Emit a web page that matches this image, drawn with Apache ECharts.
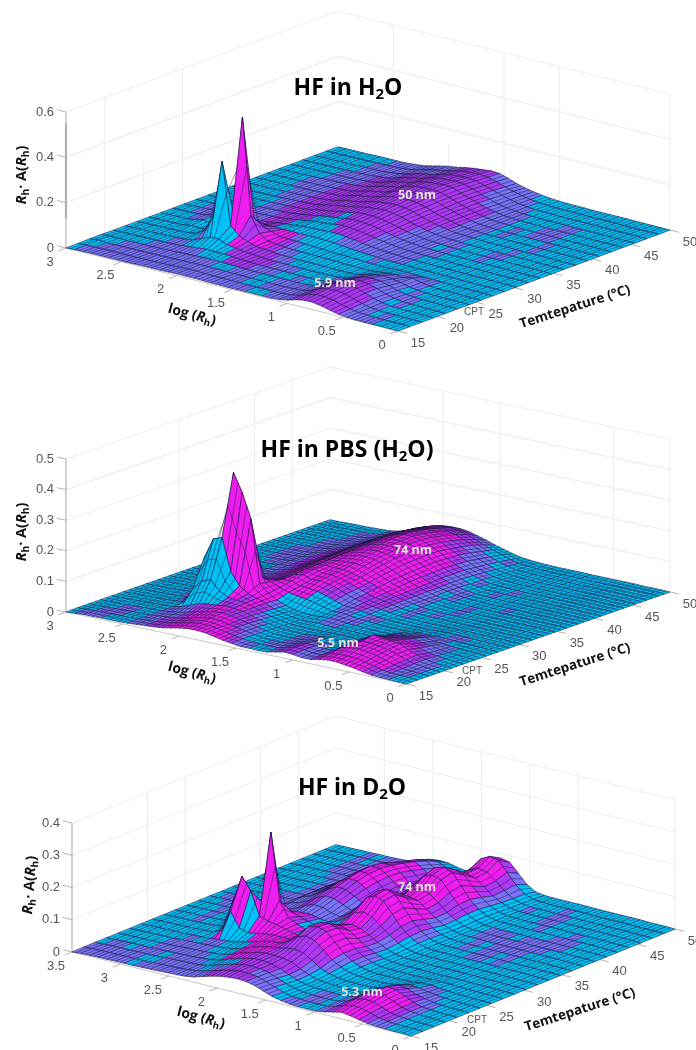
<!DOCTYPE html>
<html><head><meta charset="utf-8"><style>html,body{margin:0;padding:0;background:#fff}#c{width:696px;height:1050px}</style>
<script src="https://cdn.jsdelivr.net/npm/echarts@6/dist/echarts.min.js"></script></head><body><div id="c"></div>
<script>
// Surface heights are z x 1000. Rows: log(Rh) from axis max down to 0. Columns: temperature 15 to 50 C.
const h2oHeights=[
[0,1,2,2,1,1,1,1,1,1,1,1,1,1,1,1,1,1,1,1,1,1,1,1],
[2,3,6,4,2,2,2,2,2,2,2,2,2,2,2,2,2,2,2,2,2,2,2,2],
[3,3,3,3,3,3,3,3,3,3,3,3,3,3,3,3,3,2,2,2,2,2,2,2],
[4,4,3,3,3,3,3,3,3,4,5,5,4,3,3,3,3,3,3,3,3,3,3,2],
[4,4,4,4,4,4,4,5,8,10,10,8,5,4,4,4,4,4,4,4,3,3,3,3],
[4,4,4,4,4,5,6,10,16,18,16,10,6,5,5,5,5,5,5,5,4,4,4,4],
[4,4,4,4,5,6,8,8,8,8,7,7,6,6,6,6,6,6,6,5,5,5,4,4],
[4,4,4,5,6,8,14,14,10,9,8,8,8,8,8,7,7,7,7,6,6,5,5,4],
[5,5,5,6,8,14,40,30,14,10,9,9,9,9,9,9,9,9,9,8,7,6,6,5],
[6,5,6,7,12,30,110,70,22,13,11,11,11,11,11,11,12,12,12,11,11,10,9,8],
[6,6,7,9,16,45,360,95,35,17,14,13,14,14,14,15,15,15,16,15,15,14,13,12],
[6,7,8,11,20,45,85,545,70,30,20,18,19,20,21,22,23,24,25,25,24,23,22,20],
[7,8,9,12,18,30,50,120,55,32,25,24,25,27,29,31,33,34,36,36,35,33,31,29],
[8,9,10,13,18,24,34,50,40,30,28,29,31,33,35,37,39,41,43,44,43,41,39,37],
[8,9,10,12,15,18,22,26,28,30,33,36,38,40,42,44,46,48,50,52,50,48,45,42],
[8,8,9,10,12,15,18,22,26,30,34,38,42,46,50,54,58,62,64,64,62,58,54,50],
[7,7,8,9,10,12,15,18,24,30,36,42,48,54,58,62,66,70,72,72,70,66,62,56],
[6,7,7,8,9,10,12,16,22,30,38,46,52,58,62,66,70,74,76,76,74,70,66,60],
[6,6,7,7,8,9,11,15,20,28,38,46,52,58,64,68,72,76,78,80,76,72,68,64],
[5,6,6,7,8,9,10,14,18,26,34,42,48,54,60,64,68,72,74,76,72,68,64,62],
[5,5,6,6,7,8,10,14,16,22,30,36,42,46,52,56,58,60,62,62,60,56,54,50],
[5,5,5,6,7,8,10,12,14,18,24,28,32,36,40,42,44,46,48,48,46,44,40,36],
[5,5,5,6,6,7,9,12,14,16,18,22,24,26,30,32,34,36,36,36,34,32,30,26],
[5,5,5,5,6,7,8,10,12,13,14,16,18,20,20,22,24,24,24,24,22,22,20,18],
[5,6,6,6,7,8,8,9,9,10,11,12,13,14,14,15,15,16,16,16,14,14,13,12],
[8,8,9,10,10,9,8,8,8,8,9,9,9,10,10,10,10,10,10,10,9,9,8,8],
[14,16,18,20,18,14,11,8,7,7,7,7,7,8,8,8,8,7,7,7,7,6,6,5],
[25,30,34,36,32,26,20,12,8,6,6,6,6,6,6,6,5,5,5,5,5,5,4,4],
[32,38,44,48,46,38,28,16,9,6,5,5,5,5,5,5,5,4,4,4,4,4,4,3],
[32,38,46,50,50,42,32,18,10,6,5,5,4,4,4,4,4,4,4,3,3,3,3,3],
[26,32,40,46,44,38,28,16,8,5,4,4,4,4,3,3,3,3,3,3,3,3,3,2],
[16,22,28,34,34,28,22,22,6,4,4,3,3,3,3,3,3,3,3,3,3,3,2,2],
[8,12,16,20,20,16,12,12,6,4,3,3,3,3,3,3,3,3,3,2,2,2,2,2],
[4,6,8,10,10,9,7,6,4,3,3,3,3,3,2,2,2,2,2,2,2,2,2,2],
[2,3,4,5,5,5,4,3,3,2,2,2,2,2,2,2,2,2,2,2,2,2,2,2],
[1,2,2,3,3,3,2,2,2,2,2,2,2,2,2,2,2,2,2,2,1,1,1,1],
[1,1,2,2,2,2,2,2,2,1,1,1,1,1,1,1,1,1,1,1,1,1,1,1],
[1,1,1,1,1,1,1,1,1,1,1,1,1,1,1,1,1,1,1,1,1,1,1,1],
[0,1,1,1,1,1,1,1,1,1,1,1,1,1,1,1,1,1,1,1,1,1,1,0],
[0,0,0,0,0,0,0,0,0,0,0,0,0,0,0,0,0,0,0,0,0,0,0,0]];
const h2oLevels=[
"00000000000000000000000","10000000000000000000000","11000000011000000000000","11100000111000000000000",
"11100000110000001100000","11110000000000111111000","11111000011111111111110","11111000011111111111111",
"11110100111122222211111","11110000322222222222111","11110003222222222222111","11100033222222222222211",
"11100322200222222222211","11102233300022222222211","11022233300022222222221","11022222100002222222222",
"11122211000222222222222","11112110002222222222222","11111100002222222222222","10011000012222222222221",
"10001000012222222222221","01100000011122222222111","01110000011111222221111","11100000011111122221111",
"11100000111111111111110","11111000011111111111100","22221100011101111111000","22222100000111000000000",
"22222110000000001100000","22222111000000000000000","22221111000000000110000","22211111000011000111000",
"11111011000001100111000","11101100000000011000000","10011000000000000000000","11000000000000000000000",
"00000000000000000000000","00000000000000000000000","00000000000000000000000"];
const pbsHeights=[
[0,1,1,1,1,1,1,1,1,1,1,1,1,1,1,1,1,1,1,1,1,1,1,1],
[2,2,1,1,1,1,1,1,1,1,1,1,1,1,1,1,1,1,1,1,1,1,1,1],
[4,3,2,2,2,2,2,2,2,2,2,2,2,2,2,2,2,2,2,2,2,2,2,2],
[4,4,3,3,3,3,3,3,3,3,3,3,3,3,3,3,3,3,3,3,3,3,3,3],
[5,4,4,4,4,4,4,4,4,4,4,4,4,4,4,4,4,4,4,4,4,4,4,3],
[5,5,5,5,5,5,5,6,8,10,10,8,6,5,5,5,5,5,5,4,4,4,4,4],
[5,5,5,6,6,7,8,12,12,10,9,8,8,8,8,8,8,8,8,7,7,6,5,5],
[6,6,6,7,8,10,25,20,14,12,11,10,10,10,11,11,12,12,12,11,10,9,8,7],
[8,8,9,10,14,60,150,70,20,16,15,15,15,16,16,17,17,18,18,18,17,16,14,12],
[10,10,12,14,24,90,215,200,40,22,20,21,22,24,26,27,28,28,28,28,27,26,24,20],
[12,13,15,20,35,100,225,425,70,34,30,30,33,36,39,42,44,46,46,46,44,42,38,32],
[15,17,20,28,40,70,120,365,90,50,40,42,46,50,54,56,60,62,62,62,60,56,52,44],
[20,24,28,34,42,55,80,285,80,60,50,52,56,60,64,68,72,76,78,78,74,68,62,52],
[26,30,34,40,46,52,60,80,72,68,70,74,76,78,80,82,86,88,90,88,84,78,72,60],
[30,34,38,42,44,48,50,54,60,68,76,80,80,82,86,92,96,98,100,98,92,84,76,62],
[30,33,36,38,40,40,40,38,50,58,66,74,78,84,92,98,102,106,108,104,98,88,78,62],
[28,30,30,32,32,30,28,26,44,56,68,74,78,86,94,100,104,106,108,104,96,86,74,58],
[22,24,26,26,24,22,20,18,40,52,62,68,72,82,90,96,100,102,102,98,90,80,68,50],
[16,18,20,20,18,16,14,14,34,44,54,60,64,74,80,88,92,92,92,88,80,70,58,42],
[12,14,14,14,12,11,11,12,26,34,42,48,54,62,68,74,76,78,78,72,66,58,46,32],
[8,10,10,10,10,10,10,14,18,24,32,38,44,50,54,58,60,62,60,58,52,44,36,24],
[8,8,8,8,9,9,12,16,20,22,26,30,34,38,42,44,46,48,46,44,38,32,26,16],
[7,8,8,8,8,9,10,14,16,18,20,24,26,28,30,32,34,34,34,30,26,22,16,10],
[8,9,10,10,10,9,9,10,12,14,16,18,20,20,22,22,24,24,22,20,16,14,10,7],
[14,16,16,14,12,10,9,9,10,10,12,12,14,14,14,16,16,14,14,12,10,8,7,5],
[20,22,22,18,14,10,8,8,8,8,8,9,9,10,10,10,10,10,8,8,7,6,5,4],
[18,20,20,16,12,9,7,6,6,6,6,7,7,7,7,7,7,6,6,6,5,5,4,3],
[14,16,16,14,12,8,6,5,5,5,5,5,5,5,5,5,5,5,5,4,4,4,3,3],
[14,16,18,18,16,12,8,6,5,4,4,4,4,4,4,4,4,4,4,4,3,3,3,3],
[20,26,32,36,36,30,20,12,6,5,4,4,4,4,4,3,3,3,3,3,3,3,3,3],
[24,30,38,46,54,34,24,14,8,5,4,4,3,3,3,3,3,3,3,3,3,3,3,2],
[24,30,40,46,48,36,26,16,8,6,4,3,3,3,3,3,3,3,3,3,3,2,2,2],
[20,28,36,42,46,36,28,18,9,7,4,3,3,3,3,3,3,3,3,2,2,2,2,2],
[16,22,30,36,42,30,20,12,8,6,4,3,3,3,3,2,2,2,2,2,2,2,2,2],
[10,16,22,28,30,22,16,10,6,5,3,3,2,2,2,2,2,2,2,2,2,2,2,2],
[5,8,12,16,18,12,9,7,5,4,3,2,2,2,2,2,2,2,2,2,2,2,2,2],
[3,4,6,9,10,8,6,5,4,3,2,2,2,2,2,2,2,2,2,2,2,2,2,1],
[2,3,3,5,5,5,4,3,3,2,2,2,2,2,1,1,1,1,1,1,1,1,1,1],
[1,2,2,2,2,2,2,2,2,1,1,1,1,1,1,1,1,1,1,1,1,1,1,1],
[0,0,0,0,0,0,0,0,0,0,0,0,0,0,0,0,0,0,0,0,0,0,0,0]];
const pbsLevels=[
"00000000000000000000000","10000000000000000000000","11000000000000000000000","11100000000000011100000",
"01100000011000111111000","00000011110000111111110","00000111100011111111110","11110000011111222211111",
"11110000112222223322221","22110000122233333333221","22220033122333333333321","33320033322333333333322",
"33332333322333333333332","33332233333333333333332","33323333333333333333322","33322210333333333333322",
"33221000333333333333322","32110000023333333333321","21100000022333333332221","10000000011233333332110",
"10000000112333333321100","01000011122233322211100","01110011012222221111010","11110001101111111010000",
"22110000100011010100000","22100000001100110000000","11100000000000000000000","11000000000100001000000",
"22211000000011000100000","33322110000000000000000","33333211000000000000000","33333211000000100000000",
"33333211000000000000000","33333211100000000000000","23332110100000000000000","12222110000000000000000",
"11111000000000000000000","01110000000000000000000","00000000000000000000000"];
const d2oHeights=[
[0,1,1,1,1,1,1,1,1,1,1,1,1,1,1,1,1,1,1,1,1,1,1,1],
[2,3,2,2,2,2,2,2,2,2,2,2,2,2,2,2,2,2,2,2,2,2,2,2],
[3,3,3,3,3,3,3,3,3,3,3,3,3,3,3,3,3,3,3,3,3,3,3,2],
[4,4,4,4,3,3,3,3,3,3,3,3,3,3,3,3,3,3,3,3,3,3,3,3],
[4,4,4,4,4,4,4,4,4,4,4,4,4,4,4,4,4,4,4,4,4,4,4,3],
[5,5,5,4,4,4,4,5,5,5,5,5,5,5,5,5,5,5,5,5,5,4,4,4],
[5,5,5,5,5,6,6,6,7,7,6,6,6,6,6,6,6,6,6,6,5,5,5,4],
[5,5,6,6,6,7,7,8,10,9,8,8,8,8,8,7,7,7,7,7,6,6,5,5],
[6,6,7,7,8,8,9,20,100,30,14,12,14,18,22,24,24,20,16,14,12,10,8,6],
[7,7,8,8,9,10,12,85,180,60,24,18,20,26,32,36,38,36,30,26,22,18,14,10],
[8,8,9,9,10,12,14,40,140,90,34,26,30,38,48,54,58,56,50,44,36,30,24,16],
[9,9,10,11,12,14,18,32,70,315,60,36,44,54,66,76,82,84,78,68,58,50,40,26],
[10,11,12,13,15,18,24,36,60,110,62,44,54,66,80,92,100,102,96,84,74,64,50,32],
[12,14,16,18,22,26,32,42,56,64,52,44,52,64,78,90,98,100,96,88,78,66,50,30],
[16,20,24,28,32,36,40,44,48,50,44,38,42,52,64,74,80,82,80,72,62,50,38,24],
[24,28,32,36,40,44,46,44,42,40,36,34,36,42,48,52,56,58,56,48,42,36,28,20],
[32,36,40,44,48,50,48,44,40,36,38,44,52,54,48,42,46,52,56,50,40,34,32,30],
[38,42,46,50,52,54,60,70,70,56,48,60,80,84,70,56,62,80,88,72,54,50,58,48],
[42,46,48,50,52,60,80,98,96,74,62,84,114,122,98,76,84,110,122,100,74,72,92,76],
[44,46,46,46,50,64,90,104,100,78,68,92,128,134,108,82,92,120,130,108,82,84,106,86],
[42,42,40,38,44,58,82,96,92,70,62,84,118,124,98,76,84,112,120,98,74,78,100,80],
[36,34,30,26,30,42,60,70,68,52,48,62,84,90,72,56,62,80,86,70,54,58,70,52],
[26,24,20,16,18,24,36,42,42,34,32,40,52,56,46,36,38,48,50,42,32,34,38,24],
[16,14,12,10,10,14,20,24,24,20,18,22,28,30,26,20,22,26,26,22,18,16,16,8],
[10,8,7,6,7,8,10,12,12,10,9,11,14,14,12,10,10,12,12,10,8,7,6,4],
[6,6,5,5,5,5,6,6,6,6,5,5,6,6,6,5,5,5,5,5,4,4,4,3],
[4,4,4,4,4,4,4,4,4,4,4,4,4,4,4,4,4,4,4,4,4,3,3,3],
[4,4,4,4,4,4,4,4,4,4,4,4,4,4,4,4,3,3,3,3,3,3,3,3],
[4,5,6,6,5,5,4,4,4,4,3,3,3,3,3,3,3,3,3,3,3,3,3,3],
[8,10,12,14,14,10,7,5,4,3,3,3,3,3,3,3,3,3,3,3,3,3,3,3],
[14,20,26,30,30,20,12,7,4,3,3,3,3,3,3,3,3,3,3,3,3,3,3,2],
[20,26,32,38,42,32,18,10,6,3,3,3,3,3,3,3,3,3,3,3,2,2,2,2],
[16,24,30,36,38,28,16,10,6,3,3,3,3,3,3,3,2,2,2,2,2,2,2,2],
[10,16,20,24,26,16,10,7,5,3,3,2,2,2,2,2,2,2,2,2,2,2,2,2],
[5,8,10,12,13,10,7,5,3,2,2,2,2,2,2,2,2,2,2,2,2,2,2,2],
[3,4,5,6,6,5,4,3,2,2,2,2,2,2,2,2,2,2,2,2,2,2,2,2],
[2,2,3,3,3,3,2,2,2,2,2,2,2,2,2,2,2,2,2,2,2,2,1,1],
[1,1,1,1,1,1,1,1,1,1,1,1,1,1,1,1,1,1,1,1,1,1,1,1],
[1,1,1,1,1,1,1,1,1,1,1,1,1,1,1,1,1,1,1,1,1,1,1,1],
[0,0,0,0,0,0,0,0,0,0,0,0,0,0,0,0,0,0,0,0,0,0,0,0]];
const d2oLevels=[
"11000000000000000000000","11100000000010000000000","11100000000110000000000","11000000111000000000000",
"11100000000000000001111","11111000000001100011100","00111100000011111111111","10011000000111111111111",
"11111133322111111111100","11111103320111222211100","11110000330122222221110","11100003330122333222210",
"11000033333112233333210","10033333322112233333110","11033333300111222322100","21033333000111112221100",
"22223333110222222222110","22222233322333223332233","22222223333333333333333","21222223333333333333333",
"11122233332333333333332","11011233322233322332221","10000112211222112211110","00000001100011000000000",
"10000000000000000000000","11100000000000000000100","01100000000000011000000","00000000000001111000000",
"11100000000000011001110","22211000000011110011100","33322100000011111000000","33332100000000111000000",
"33332110000011111100000","22332110000000011110000","12221100000000001100000","11111000000000000000000",
"00000000000000000000000","00000000000000000000000","00000000000000000000000"];

const h2oLogTicks=[0,0.5,1,1.5,2,2.5,3], pbsLogTicks=[0,0.5,1,1.5,2,2.5,3], d2oLogTicks=[0,0.5,1,1.5,2,2.5,3,3.5];
const tempTicks=[15,20,25,30,35,40,45,50];
const h2oZTicks=[0,0.2,0.4,0.6], pbsZTicks=[0,0.1,0.2,0.3,0.4,0.5], d2oZTicks=[0,0.1,0.2,0.3,0.4];

const levelColors=['#00c2f6','#7a74fb','#ae38f3','#ee1ef0'];
const MESH='#14143a';
const T0=15,T1=50;
const panels=[
 {heights:h2oHeights,levels:h2oLevels,logTicks:h2oLogTicks,zTicks:h2oZTicks,logMax:3,zMax:0.6,zPx:136,
  F:[398,331],L:[66,248],R:[670,230],meshCols:false,
  wallT:[[20,1],[25,.42],[30,1],[40,.23]],wallLog:[[2.5,1],[2,.22],[1.5,1],[1,1],[0,1]],
  title:'{b|HF in H}{s|2}{b|O}',tx:348,ty:88,
  notes:[['50 nm',417,195],['5.9 nm',335,283]],cpt:[474,312],
  logLabel:[192,315],tempLabel:[575,307],zLabel:[22,175],zRot:1.571,bar:[0.13,0.55]},
 {heights:pbsHeights,levels:pbsLevels,logTicks:pbsLogTicks,zTicks:pbsZTicks,logMax:3,zMax:0.5,zPx:153,
  F:[406,684],L:[66,612],R:[670,592],meshCols:true,
  wallT:[[30,1],[40,1],[45,1]],wallLog:[[2,1],[1.5,1],[0.5,1],[0,1]],
  title:'{b|HF in PBS (H}{s|2}{b|O)}',tx:347,ty:450,
  notes:[['74 nm',413,550],['5.5 nm',338,643]],cpt:[472,671],
  logLabel:[192,673],tempLabel:[575,665],zLabel:[22,532],zRot:1.571},
 {heights:d2oHeights,levels:d2oLevels,logTicks:d2oLogTicks,zTicks:d2oZTicks,logMax:3.5,zMax:0.4,zPx:129,
  F:[411,1036],L:[72,952],R:[675,929],meshCols:false,
  wallT:[[25,1],[30,1],[40,1],[45,1]],wallLog:[[3,1],[2.5,1],[2,1],[1.5,1],[1,1],[0,1]],
  title:'{b|HF in D}{s|2}{b|O}',tx:352,ty:788,
  notes:[['74 nm',417,887],['5.3 nm',362,992]],cpt:[477,1020],
  logLabel:[201,1018],tempLabel:[580,1010],zLabel:[30,885],zRot:1.5}
];
function project(p,log,T,z){
  const u=log/p.logMax,v=(T-T0)/(T1-T0);
  return [p.F[0]+u*(p.L[0]-p.F[0])+v*(p.R[0]-p.F[0]),
          p.F[1]+u*(p.L[1]-p.F[1])+v*(p.R[1]-p.F[1])-z/p.zMax*p.zPx];
}
const BOLD='"Open Sans",sans-serif', TICK='"Liberation Sans",sans-serif';

function wallLines(p){
  const out=[],c='#eeeeee',lm=p.logMax;
  p.zTicks.slice(1).forEach(z=>{
    out.push({a:[lm,T0,z],b:[lm,T1,z],c,w:1.2});
    out.push({a:[lm,T1,z],b:[0,T1,z],c,w:1.2});
  });
  p.wallT.forEach(([t,f])=>out.push({a:[lm,t,0],b:[lm,t,p.zMax*f],c,w:1.2}));
  p.wallLog.forEach(([l,f])=>out.push({a:[l,T1,0],b:[l,T1,p.zMax*f],c,w:1.2}));
  out.push({a:[lm,T0,0],b:[lm,T0,p.zMax],c:'#b4b4b4',w:1.2});
  if(p.bar) out.push({a:[lm,T0,p.bar[0]],b:[lm,T0,p.bar[1]],c:'#b0b0b0',w:2.2});
  p.zTicks.forEach(z=>out.push({a:[lm,T0,z],b:[lm+lm*0.027,T0,z],c:'#b4b4b4',w:1}));
  out.push({a:[0,T0,0],b:[lm,T0,0],c:'#c8c8c8',w:1});
  out.push({a:[0,T0,0],b:[0,T1,0],c:'#c8c8c8',w:1});
  p.logTicks.forEach(l=>out.push({a:[l,T0,0],b:[l,T0-1,0],c:'#b4b4b4',w:1}));
  tempTicks.forEach(t=>out.push({a:[0,t,0],b:[-lm*0.027,t,0],c:'#b4b4b4',w:1}));
  return out;
}
function textItems(p){
  const tick={fontFamily:TICK,fontSize:13,fill:'#555'};
  const out=[];
  p.zTicks.forEach(z=>{const q=project(p,p.logMax,T0,z);out.push({x:q[0]-12,y:q[1],style:{...tick,text:String(z),align:'right',verticalAlign:'middle'}});});
  p.logTicks.forEach(l=>{const q=project(p,l,T0,0);out.push({x:q[0]-16,y:q[1]+14,style:{...tick,text:String(l),align:'center',verticalAlign:'middle'}});});
  tempTicks.forEach(t=>{const q=project(p,0,t,0);out.push({x:q[0]+20,y:q[1]+12,style:{...tick,text:String(t),align:'center',verticalAlign:'middle'}});});
  out.push({x:p.cpt[0],y:p.cpt[1],style:{fontFamily:TICK,fontSize:10,fill:'#555',text:'CPT',align:'center',verticalAlign:'middle'}});
  out.push({x:p.tx,y:p.ty,style:{text:p.title,align:'center',verticalAlign:'middle',rich:{
    b:{fontFamily:BOLD,fontWeight:700,fontSize:23,fill:'#000',lineHeight:28},
    s:{fontFamily:BOLD,fontWeight:700,fontSize:15,fill:'#000',lineHeight:28,verticalAlign:'bottom',padding:[8,0,0,0]}}}});
  p.notes.forEach(n=>out.push({x:n[1],y:n[2],style:{text:n[0],align:'center',verticalAlign:'middle',fontFamily:BOLD,fontWeight:700,fontSize:12.5,fill:'#e4e4d8'}}));
  const mk=fs=>({b:{fontFamily:BOLD,fontWeight:700,fontSize:fs,fill:'#111',lineHeight:18},
            i:{fontFamily:BOLD,fontWeight:700,fontStyle:'italic',fontSize:fs,fill:'#111',lineHeight:18},
            s:{fontFamily:BOLD,fontWeight:700,fontSize:fs*0.7,fill:'#111',lineHeight:18,verticalAlign:'bottom',padding:[5,0,0,0]}});
  out.push({x:p.logLabel[0],y:p.logLabel[1],rotation:-0.26,style:{text:'{b|log (}{i|R}{s|h}{b|)}',rich:mk(14),align:'center',verticalAlign:'middle'}});
  out.push({x:p.tempLabel[0],y:p.tempLabel[1],rotation:0.31,style:{text:'{b|Temtepature (°C)}',rich:mk(13.5),align:'center',verticalAlign:'middle'}});
  out.push({x:p.zLabel[0],y:p.zLabel[1],rotation:p.zRot,style:{text:'{i|R}{s|h}{b|· A(}{i|R}{s|h}{b|)}',rich:mk(14.5),align:'center',verticalAlign:'middle'}});
  return out;
}
const series=[];
panels.forEach(p=>{
  const lines=wallLines(p), rows=p.heights.length, cols=p.heights[0].length;
  series.push({type:'custom',coordinateSystem:'cartesian2d',clip:false,silent:true,z:1,data:lines.map((_,k)=>[k,0]),
    renderItem(params,api){
      const l=lines[params.dataIndex],a=api.coord(project(p,...l.a)),b=api.coord(project(p,...l.b));
      return {type:'line',shape:{x1:a[0],y1:a[1],x2:b[0],y2:b[1]},style:{stroke:l.c,lineWidth:l.w}};
    }});
  const cells=[];
  for(let i=0;i<rows-1;i++)for(let j=cols-2;j>=0;j--)cells.push([i,j]);
  const logAt=i=>p.logMax*(1-i/(rows-1)), tAt=j=>T0+(T1-T0)*j/(cols-1);
  series.push({type:'custom',coordinateSystem:'cartesian2d',clip:false,silent:true,z:2,progressive:0,data:cells,
    renderItem(params,api){
      const [i,j]=cells[params.dataIndex];
      const pts=[[i,j],[i+1,j],[i+1,j+1],[i,j+1]].map(([a,b])=>api.coord(project(p,logAt(a),tAt(b),p.heights[a][b]/1000)));
      const lv=+(p.levels[i]||'').charAt(j)||0;
      const mid=(a,b)=>[(a[0]+b[0])/2,(a[1]+b[1])/2];
      const seg=(a,b)=>({type:'line',shape:{x1:a[0],y1:a[1],x2:b[0],y2:b[1]},style:{stroke:MESH,lineWidth:0.45}});
      const children=[{type:'polygon',shape:{points:pts},style:{fill:levelColors[lv],stroke:MESH,lineWidth:0.55}},
        seg(mid(pts[0],pts[1]),mid(pts[3],pts[2]))];
      if(p.meshCols) children.push(seg(mid(pts[0],pts[3]),mid(pts[1],pts[2])));
      return {type:'group',children};
    }});
  const texts=textItems(p);
  series.push({type:'custom',coordinateSystem:'cartesian2d',clip:false,silent:true,z:3,data:texts.map((_,k)=>[k,0]),
    renderItem(params){const t=texts[params.dataIndex];return {type:'text',x:t.x,y:t.y,rotation:t.rotation||0,style:t.style};}});
});
const chart=echarts.init(document.getElementById('c'),null,{renderer:'canvas'});
chart.setOption({animation:false,backgroundColor:'#fff',tooltip:{show:false},
  grid:{left:0,top:0,right:0,bottom:0},
  xAxis:{type:'value',min:0,max:696,show:false},
  yAxis:{type:'value',min:0,max:1050,inverse:true,show:false},
  series});
</script></body></html>
